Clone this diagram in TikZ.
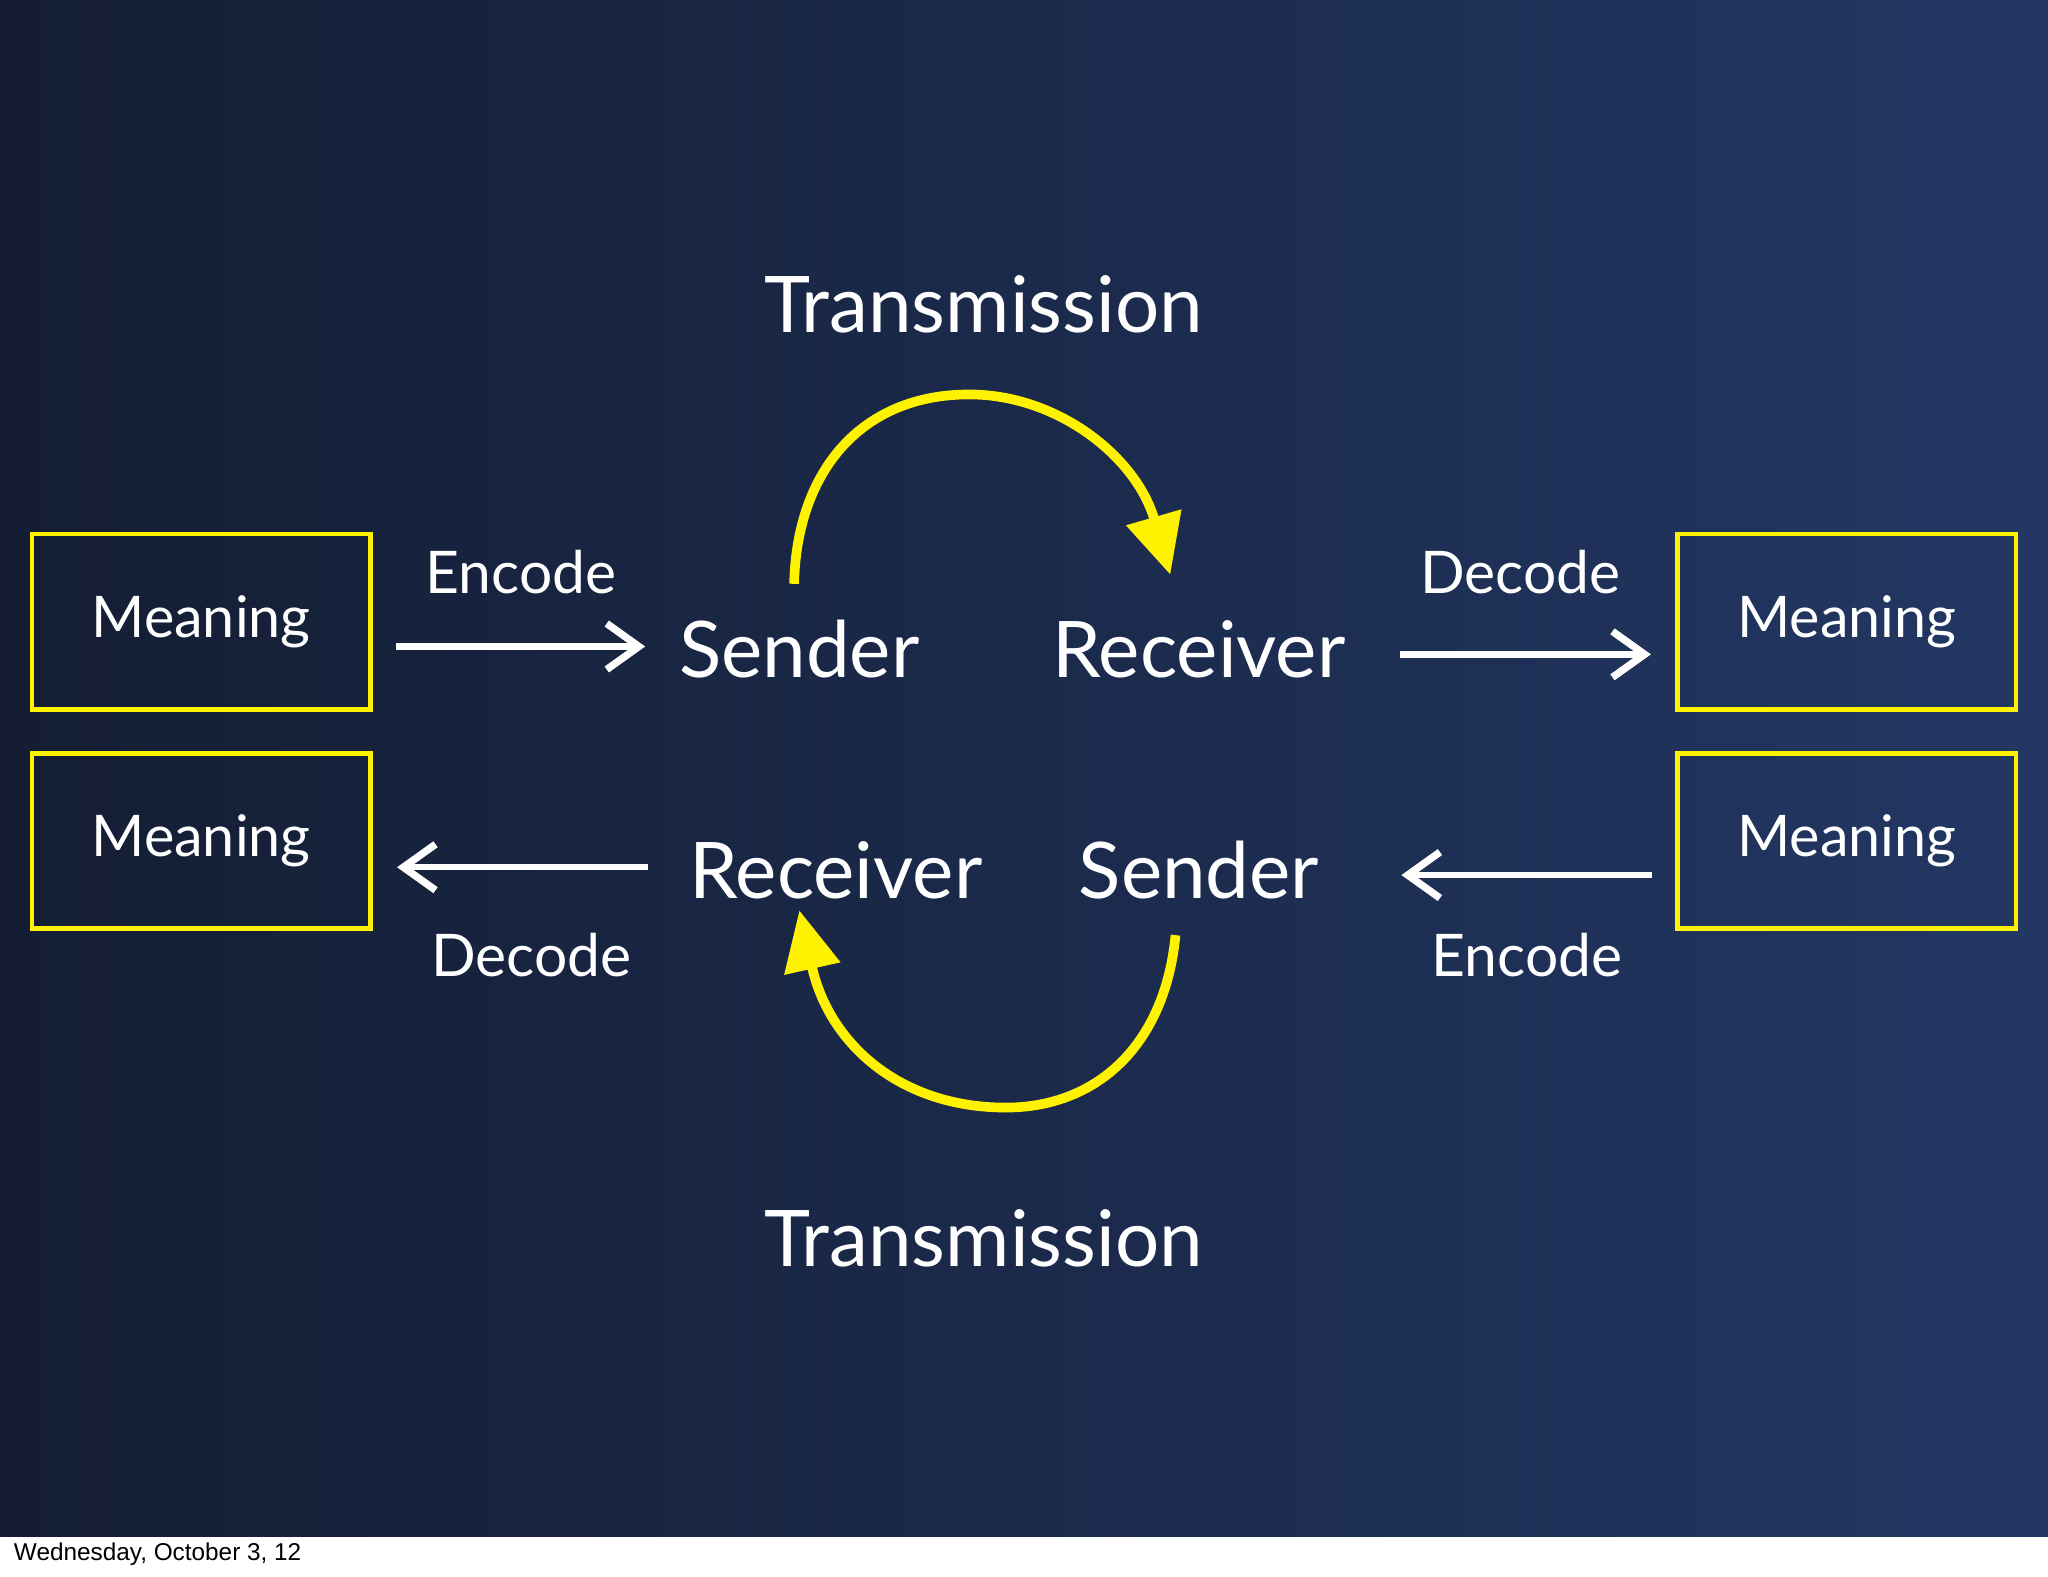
\documentclass[tikz,border=0pt]{standalone}
\usepackage{fontspec}
\setmainfont{Lato}
\newfontfamily\footfont{Liberation Sans}
\usetikzlibrary{arrows.meta}
\definecolor{bgL}{HTML}{141D33}
\definecolor{bgR}{HTML}{223763}
\definecolor{ylw}{HTML}{FFF200}
\begin{document}
\begin{tikzpicture}[x=0.01cm,y=-0.01cm,
  box/.style={draw=ylw,line width=1pt,minimum width=2.59cm,minimum height=1.34cm,text=white,font=\fontsize{12.5}{15}\selectfont},
  lbl/.style={text=white,font=\fontsize{12.8}{15}\selectfont},
  big/.style={text=white,font=\fontsize{17}{20}\selectfont},
  warr/.style={draw=white,line width=1.4pt,-{Straight Barb[length=7pt,width=10pt,line width=1.6pt]}},
  yarr/.style={draw=ylw,line width=2.1pt,-{Triangle[length=13pt,width=12pt]}}]
\useasboundingbox (0,0) rectangle (1568,1207);
\shade[left color=bgL,right color=bgR] (0,0) rectangle (1568,1177);
\fill[white] (0,1177) rectangle (1568,1207);
\node[anchor=west,inner sep=0pt,font=\footfont\fontsize{5.3}{7}\selectfont] (foot) at (10,1190) {Wednesday, October 3, 12};
\node[box] (m1) at (154,476) {Meaning};
\node[box] (m2) at (154,644) {Meaning};
\node[box] (m3) at (1414,476) {Meaning};
\node[box] (m4) at (1414,644) {Meaning};
\node[big] (t1) at (753,233) {Transmission};
\node[big] (t2) at (753,948) {Transmission};
\node[big] (s1) at (612,497) {Sender};
\node[big] (r1) at (918,497) {Receiver};
\node[big] (r2) at (640,666) {Receiver};
\node[big] (s2) at (918,666) {Sender};
\node[lbl] (e1) at (399,438) {Encode};
\node[lbl] (d1) at (1164,438) {Decode};
\node[lbl] (d2) at (407,731) {Decode};
\node[lbl] (e2) at (1169,731) {Encode};
\coordinate (a1) at (303,495); \coordinate (b1) at (494,495);
\coordinate (a2) at (1072,501); \coordinate (b2) at (1264,501);
\coordinate (a3) at (496,664); \coordinate (b3) at (304,664);
\coordinate (a4) at (1265,670); \coordinate (b4) at (1073,670);
\draw[warr] (a1) -- (b1);
\draw[warr] (a2) -- (b2);
\draw[warr] (a3) -- (b3);
\draw[warr] (a4) -- (b4);
\coordinate (ya) at (608,447); \coordinate (yt) at (742,302); \coordinate (yb) at (896,440);
\draw[yarr] (ya) .. controls (610,360) and (660,302) .. (yt) .. controls (810,302) and (870,350) .. (yb);
\coordinate (za) at (900,716); \coordinate (zt) at (770,848); \coordinate (zb) at (612,697);
\draw[yarr] (za) .. controls (892,800) and (840,848) .. (zt) .. controls (690,848) and (635,800) .. (zb);
\end{tikzpicture}
\end{document}
